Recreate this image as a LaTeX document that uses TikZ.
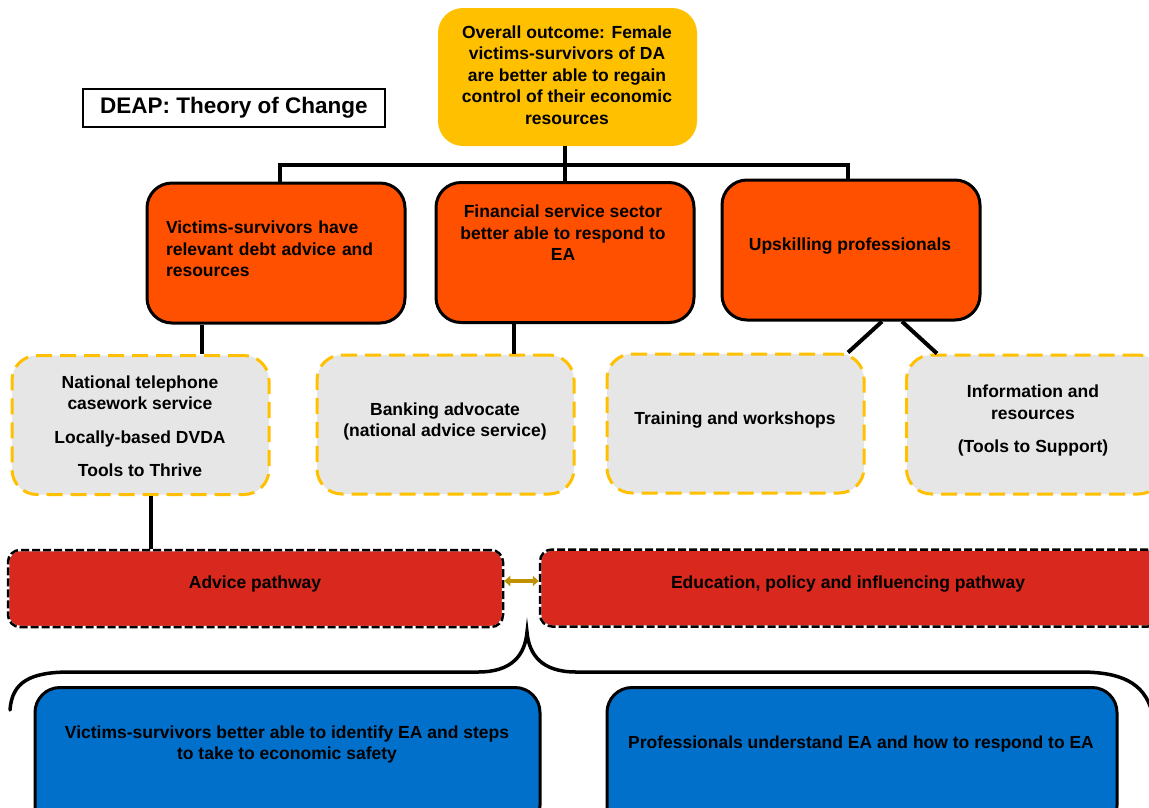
\documentclass[tikz,border=0pt]{standalone}
\usepackage{fontspec}
\setmainfont{Liberation Sans}
\usepackage{tikz}
\usetikzlibrary{arrows.meta}
\definecolor{outcomeyellow}{RGB}{255,192,0}
\definecolor{goalorange}{RGB}{255,80,0}
\definecolor{servicegrey}{RGB}{231,230,230}
\definecolor{pathred}{RGB}{217,40,30}
\definecolor{resultblue}{RGB}{0,112,202}
\definecolor{arrowgold}{RGB}{191,144,0}

\begin{document}
\begin{tikzpicture}[x=1pt,y=-1pt,
        txt/.style={font=\bfseries\fontsize{17.5}{21.5}\selectfont,align=center,inner sep=0pt},
        titlebox/.style={rectangle,draw=black,line width=1.3pt,minimum width=302pt,minimum height=38pt,inner sep=0pt,font=\bfseries\fontsize{22.5}{26}\selectfont},
        outcomebox/.style={rectangle,rounded corners=25pt,fill=outcomeyellow,inner sep=0pt,minimum width=259pt,minimum height=138pt},
        goalbox/.style={rectangle,rounded corners=25pt,fill=goalorange,draw=black,line width=3pt,inner sep=0pt,minimum width=258pt,minimum height=140pt},
        servicebox/.style={rectangle,rounded corners=25pt,fill=servicegrey,draw=outcomeyellow,line width=3pt,dash pattern=on 16pt off 8pt,inner sep=0pt,minimum width=257pt,minimum height=139pt},
        pathbox/.style={rectangle,rounded corners=12pt,fill=pathred,draw=white,line width=2.5pt,inner sep=0pt,minimum height=77pt,postaction={draw=black,dash pattern=on 8pt off 3pt}},
        resultbox/.style={rectangle,rounded corners=25pt,fill=resultblue,draw=black,line width=3pt,inner sep=0pt,minimum height=143pt},
        link/.style={draw=black,line width=4pt},
        ptr/.style={draw=arrowgold,line width=3.5pt,{Triangle[length=6pt,width=10pt]}-{Triangle[length=6pt,width=10pt]}},
        brace/.style={draw=black,line width=3.5pt,line cap=round}]
                        \useasboundingbox (0,0) rectangle (1149,807);
                        \clip (0,0) rectangle (1149,807);

                        \node[titlebox] (title) at (234,108) {DEAP: Theory of Change};

                        \node[outcomebox] (outcome) at (567.5,77) {};
                        \node[txt] (outcomeT) at (567,75) {Overall outcome: Female\\victims-survivors of DA\\are better able to regain\\control of their economic\\resources};

                        \node[goalbox] (debt) at (276,253) {};
                        \node[txt,text width=220pt,align=left] (debtT) at (276,249) {Victims-survivors have\\relevant debt advice and\\resources};
                        \node[goalbox] (fin) at (565,252.5) {};
                        \node[txt] (finT) at (563,233) {Financial service sector\\better able to respond to\\EA};
                        \node[goalbox] (upskill) at (851,250) {};
                        \node[txt] (upskillT) at (850,246) {Upskilling professionals};

                        \node[servicebox] (phone) at (140.5,425) {};
                        \node[txt] (phoneT) at (140,426) {National telephone\\casework service\\[12pt]Locally-based DVDA\\[12pt]Tools to Thrive};
                        \node[servicebox] (bank) at (445.5,424.5) {};
                        \node[txt] (bankT) at (445,421.5) {Banking advocate\\(national advice service)};
                        \node[servicebox] (train) at (735.5,423.5) {};
                        \node[txt] (trainT) at (735,420) {Training and workshops};
                        \node[servicebox] (info) at (1035,424.5) {};
                        \node[txt] (infoT) at (1033,420.5) {Information and\\resources\\[12pt](Tools to Support)};

                        \node[pathbox,minimum width=495pt] (advice) at (255.5,588.5) {};
                        \node[txt] (adviceT) at (255,584) {Advice pathway};
                        \node[pathbox,minimum width=620pt] (edu) at (850,588) {};
                        \node[txt] (eduT) at (848,584) {Education, policy and influencing pathway};

                        \node[resultbox,minimum width=505pt] (victims) at (287.5,759) {};
                        \node[txt] (victimsT) at (287,744.5) {Victims-survivors better able to identify EA and steps\\to take to economic safety};
                        \node[resultbox,minimum width=510pt] (profs) at (862,759) {};
                        \node[txt] (profsT) at (861,744) {Professionals understand EA and how to respond to EA};

                        \draw[link] (outcome.south -| fin.north) -- (fin.north);
                        \draw[link] (debt.north -| 280,0) |- (fin.north |- 0,165) -| (upskill.north -| 848,0);
                        \draw[link] (debt.south -| 202,0) -- (phone.north -| 202,0);
                        \draw[link] (fin.south -| 514,0) -- (bank.north -| 514,0);
                        \draw[link] (upskill.south -| 882,0) -- (train.north -| 848,0);
                        \draw[link] (upskill.south -| 902,0) -- (info.north -| 937,0);
                        \draw[link] (phone.south -| 151,0) -- (advice.north -| 151,0);
                        \draw[ptr] (advice.east |- 0,581) -- (edu.west |- 0,581);

                        \draw[brace] (10,710) .. controls (12,682) and (30,672) .. (70,672) -- (478,672)
                                .. controls (512,672) and (525,655) .. (527,632)
                                .. controls (529,655) and (542,672) .. (576,672) -- (1080,672)
                                .. controls (1120,672) and (1144,682) .. (1152,712);
                    \end{tikzpicture}
\end{document}
